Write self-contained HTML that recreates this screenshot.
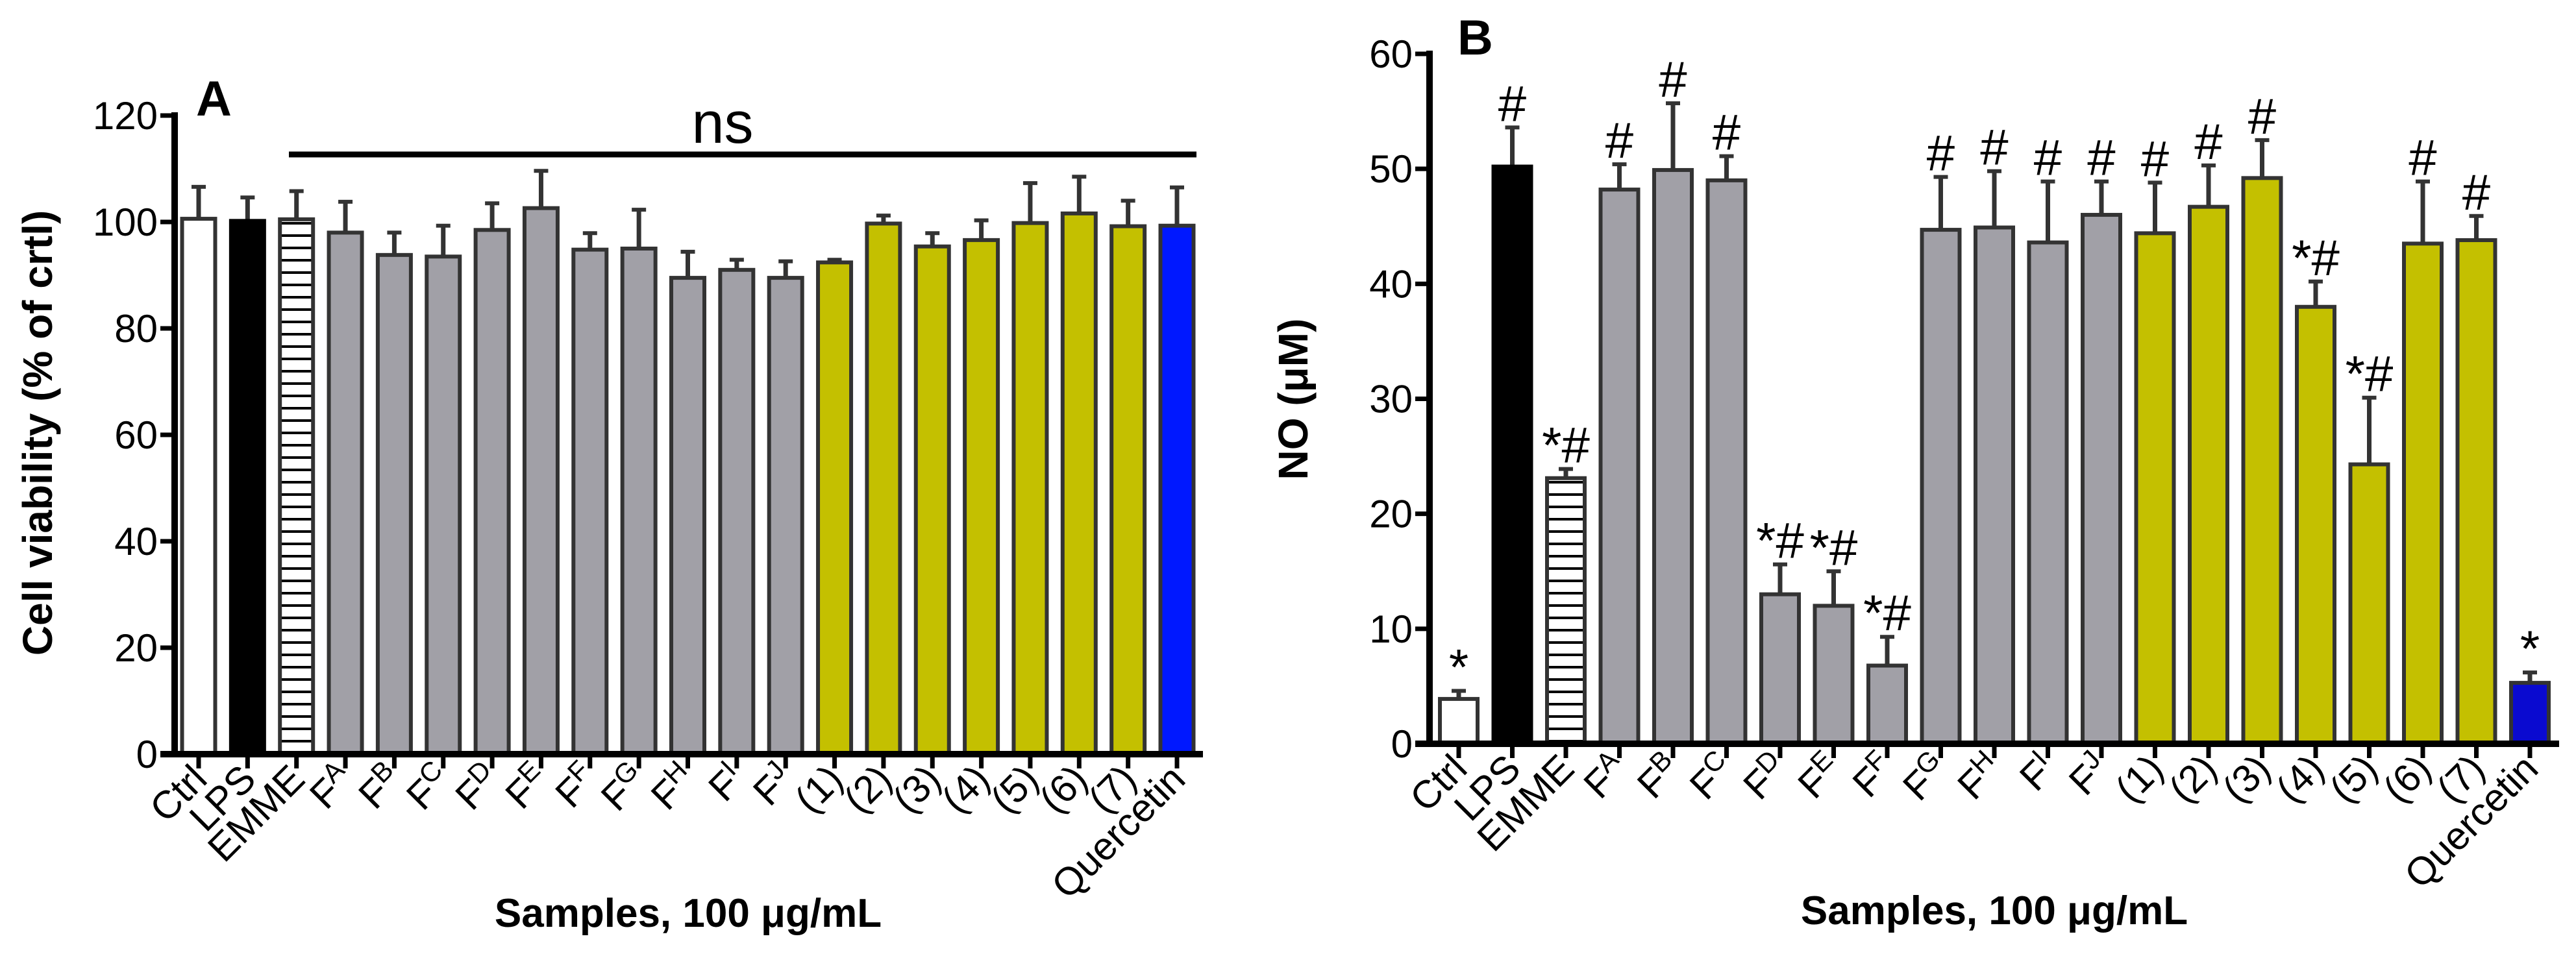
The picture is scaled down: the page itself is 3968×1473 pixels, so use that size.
<!DOCTYPE html>
<html><head><meta charset="utf-8"><style>
html,body{margin:0;padding:0;background:#fff;}
svg{display:block;}
text{font-family:"Liberation Sans Narrow","Liberation Sans",sans-serif;fill:#000;}
.b{font-family:"Liberation Sans",sans-serif;font-weight:bold;}
</style></head><body>
<svg id="chart" width="3968" height="1473" viewBox="0 0 3968 1473" xmlns="http://www.w3.org/2000/svg">
<defs>
<pattern id="stripes" patternUnits="userSpaceOnUse" width="20" height="19"><rect width="20" height="19" fill="#fff"/><rect y="0" width="20" height="4" fill="#000"/></pattern>
</defs>
<g id="gA"></g>
<g id="gB"></g>
</svg>
<script>
const categories=["Ctrl","LPS","EMME","FA","FB","FC","FD","FE","FF","FG","FH","FI","FJ","(1)","(2)","(3)","(4)","(5)","(6)","(7)","Quercetin"];
const viabilityValues=[100.6,100.2,100.5,98,93.8,93.5,98.5,102.6,94.8,95,89.5,91,89.5,92.4,99.7,95.4,96.6,99.8,101.6,99.2,99.3];
const viabilityErrors=[106.6,104.6,105.8,103.8,98,99.3,103.5,109.6,97.9,102.3,94.4,92.9,92.6,92.9,101.2,97.9,100.3,107.3,108.5,104,106.5];
const yTicksA=[0,20,40,60,80,100,120];
const noValues=[3.9,50.2,23.1,48.2,49.9,49,13,12,6.8,44.7,44.9,43.6,46,44.4,46.7,49.2,38,24.3,43.5,43.8,5.3];
const noErrors=[4.6,53.6,23.9,50.4,55.7,51.1,15.6,15,9.3,49.3,49.8,48.9,48.9,48.8,50.3,52.5,40.2,30.1,48.9,45.9,6.2];
const noAnnotations=["*","#","*#","#","#","#","*#","*#","*#","#","#","#","#","#","#","#","*#","*#","#","#","*"];
const yTicksB=[0,10,20,30,40,50,60];
const groups=["white","black","stripe","gray","gray","gray","gray","gray","gray","gray","gray","gray","gray","olive","olive","olive","olive","olive","olive","olive","blue"];

const NS="http://www.w3.org/2000/svg";
function mk(parent,tag,attrs,txt){const e=document.createElementNS(NS,tag);for(const k in attrs)e.setAttribute(k,attrs[k]);if(txt!==undefined)e.textContent=txt;parent.appendChild(e);return e;}
function fillFor(g,blue){return g==="white"?"#fff":g==="black"?"#000":g==="stripe"?"url(#stripes)":g==="gray"?"#a1a0a7":g==="olive"?"#c4c000":blue;}

function label(parent,name,x,y,fs){
  const t=mk(parent,"text",{x:x,y:y,"text-anchor":"end","font-size":fs,transform:`rotate(-45 ${x} ${y})`});
  
  
  if(/^F[A-J]$/.test(name)){
    t.textContent="F";
    const s=document.createElementNS(NS,"tspan");s.setAttribute("font-size",fs*0.7);s.setAttribute("dy",-fs*0.35);s.textContent=name[1];t.appendChild(s);
  } else t.textContent=name;
}

function panel(g,o){
  const yS=v=>o.y0-(v/o.max)*(o.y0-o.yTop);
  const xS=i=>o.x0+i*o.step;
  o.vals.forEach((v,i)=>{
    const x=xS(i), e=o.errs[i];
    const ln=mk(g,"line",{x1:x,x2:x,y1:yS(v),y2:yS(e),stroke:"#333","stroke-width":7});
    
    
    const cap=mk(g,"line",{x1:x-11,x2:x+11,y1:yS(e),y2:yS(e),stroke:"#333","stroke-width":6});
    
    
    const r=mk(g,"rect",{x:x-o.bw/2,y:yS(v),width:o.bw,height:o.y0-yS(v),fill:fillFor(groups[i],o.blue),stroke:groups[i]==="black"?"#000":"#333","stroke-width":6});
    
    
    const tk=mk(g,"line",{x1:x,x2:x,y1:o.y0,y2:o.y0+22,stroke:"#000","stroke-width":7});
    
    
    label(g,categories[i],x+16,o.y0+42,60);
    if(o.ann){
      const a=mk(g,"text",{x:x,y:yS(e)-10,"text-anchor":"middle","font-size":78},o.ann[i]);
      
      
    }
  });
  const ya=mk(g,"line",{x1:o.ax,x2:o.ax,y1:o.yTop-5,y2:o.y0+5,stroke:"#000","stroke-width":10});
  
  
  const xa=mk(g,"line",{x1:o.ax-22,x2:o.xEnd,y1:o.y0,y2:o.y0,stroke:"#000","stroke-width":10});
  
  
  o.ticks.forEach(t=>{
    const l=mk(g,"line",{x1:o.ax-22,x2:o.ax,y1:yS(t),y2:yS(t),stroke:"#000","stroke-width":7});
    
    
    const tx=mk(g,"text",{x:o.ax-26,y:yS(t)+21,"text-anchor":"end","font-size":60},String(t));
    
    
  });
}

const gA=document.getElementById("gA"), gB=document.getElementById("gB");
panel(gA,{x0:306,step:75.35,bw:51,y0:1162,yTop:178,max:120,ax:269,xEnd:1853,vals:viabilityValues,errs:viabilityErrors,ticks:yTicksA,blue:"#0018ff"});
panel(gB,{x0:2247,step:82.5,bw:58,y0:1146,yTop:83,max:60,ax:2202,xEnd:3942,vals:noValues,errs:noErrors,ticks:yTicksB,blue:"#0a0ad0",ann:noAnnotations});
</script>
<svg style="position:absolute;left:0;top:0" width="3968" height="1473" viewBox="0 0 3968 1473" xmlns="http://www.w3.org/2000/svg">
<line x1="445" x2="1843" y1="238" y2="238" stroke="#000" stroke-width="9"/>
<text x="1113" y="220" text-anchor="middle" font-size="90">ns</text>
<text class="b" x="302" y="178" font-size="76">A</text>
<text class="b" x="2245" y="84" font-size="76">B</text>
<text class="b" x="0" y="0" font-size="64" text-anchor="middle" transform="translate(80 667) rotate(-90)">Cell viability (% of crtl)</text>
<text class="b" x="0" y="0" font-size="64" text-anchor="middle" transform="translate(2014 615) rotate(-90)">NO (μM)</text>
<text class="b" x="1060" y="1428" font-size="62" text-anchor="middle">Samples, 100 μg/mL</text>
<text class="b" x="3072" y="1424" font-size="62" text-anchor="middle">Samples, 100 μg/mL</text>
</svg>
</body></html>
